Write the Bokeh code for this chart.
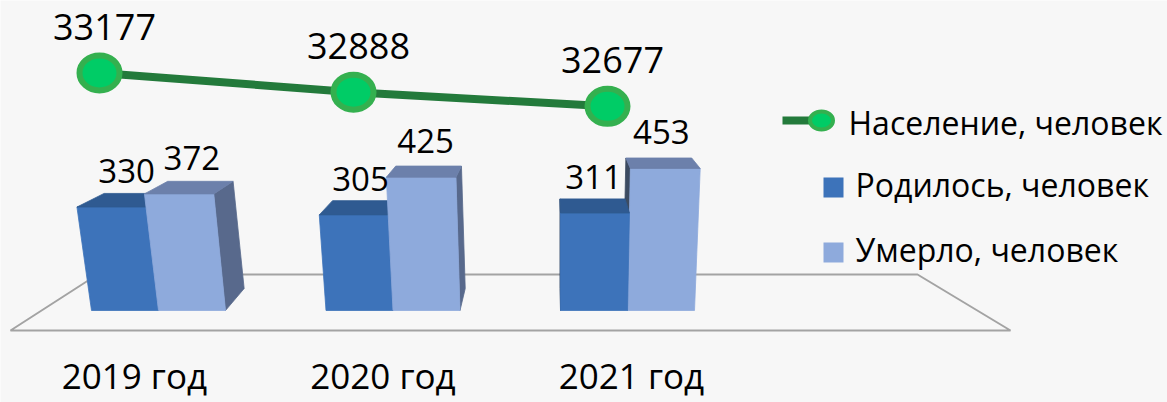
from bokeh.plotting import figure
from bokeh.models import Range1d
from bokeh.core.properties import value
from bokeh.embed import file_html
from bokeh.resources import INLINE

# ---------------- data ----------------
years = ["2019 год", "2020 год", "2021 год"]
population = [33177, 32888, 32677]
born = [330, 305, 311]
died = [372, 425, 453]
pop_name = "Население, человек"
born_name = "Родилось, человек"
died_name = "Умерло, человек"

# ---------------- layout / style ----------------
W, H = 1167, 402
PAGE = 0
FONT = "Open Sans"
BG = "#f7f7f7"
BASE_FIX = 0.4   # alphabetic-baseline correction (fraction of font size)

# category scale: reference px of category 0 (bar pair centre) and px per category
CX0, CSTEP = 158.0, 234.5
# value scale: baseline px and px per unit
VY0, VK = 310.0, 0.3135
# population (secondary) scale
PY0, PMID, PK = 90.0, 32914.0, 0.0668
LX0, LSTEP = 99.0, 254.0


def cx(px):
    return (px - CX0) / CSTEP


def vy(py):
    return (VY0 - py) / VK


x_range = Range1d(cx(PAGE), cx(PAGE + W))
y_range = Range1d(vy(PAGE + H), vy(PAGE))
pop_range = Range1d(PMID - (PAGE + H - PY0) / PK, PMID + (PY0 - PAGE) / PK)
line_x_range = Range1d((PAGE - LX0) / LSTEP, (PAGE + W - LX0) / LSTEP)

p = figure(width=W, height=H, x_range=x_range, y_range=y_range,
           output_backend="svg", toolbar_location=None,
           x_axis_location=None, y_axis_location=None,
           min_border=0, background_fill_color=BG, border_fill_color=BG,
           outline_line_color=None)
p.extra_y_ranges = {"pop": pop_range}
p.extra_x_ranges = {"line": line_x_range}
p.grid.visible = False

# ---------------- 3D helpers (pseudo perspective) ----------------
BW = 67.0 / CSTEP               # bar width in category units
KC, KK = cx(560), 0.0003 * VK   # vertical keystone
DC, DK = cx(551), -0.0572       # horizontal depth shift
BACK0, BACKS = 22.0 / VK, 0.919  # back-plane vertical mapping


def keystone(x, v):
    return KC + (x - KC) * (1 + KK * v)


def depth(x):
    return DK * (x - DC)


def back(v):
    return BACK0 + BACKS * v


n = len(years)

# floor (plot area) outline
FL_FRONT_L, FL_FRONT_R = cx(10), cx(1010)
FL_BACK_L, FL_BACK_R = cx(97), cx(917)
FL_FRONT_Y, FL_BACK_Y = vy(330), vy(274)
p.patch([FL_FRONT_L, FL_FRONT_R, FL_BACK_R, FL_BACK_L],
        [FL_FRONT_Y, FL_FRONT_Y, FL_BACK_Y, FL_BACK_Y],
        fill_alpha=0, line_color="#a3a3a3", line_width=2)

DARK = dict(front="#3d73ba", top="#2f5a91", right="#2a4a78", left="#1f3a5e")
LIGHT = dict(front="#8eaadc", top="#6c80ab", right="#58698c", left="#3c4b61")

fx, fy, fc = [], [], []


def add(xs, ys, c):
    fx.append(xs)
    fy.append(ys)
    fc.append(c)


lab_x, lab_y, lab_t = [], [], []


def bar(xl, xr, v, col):
    fl, fr = keystone(xl, v), keystone(xr, v)
    bv, b0 = back(v), back(0)
    if depth(xr) > 0:
        add([xr, fr, fr + depth(fr), xr + depth(xr)], [0, v, bv, b0], col["right"])
    if depth(xl) < 0:
        add([xl, fl, fl + depth(fl), xl + depth(xl)], [0, v, bv, b0], col["left"])
    add([xl, xr, fr, fl], [0, 0, v, v], col["front"])
    add([fl, fr, fr + depth(fr), fl + depth(fl)], [v, v, bv, bv], col["top"])
    c = (fl + fr) / 2
    lab_x.append(c + 0.6 * depth(c))
    lab_y.append(v)
    lab_t.append(str(v))


for i in range(n):
    order = [(i - BW, i, born[i], DARK), (i, i + BW, died[i], LIGHT)]
    if i > DC:
        order = order[::-1]
    for xl, xr, v, col in order:
        bar(xl, xr, v, col)

p.patches(fx, fy, fill_color=fc, line_color=fc, line_width=0.8)

FS_BAR = 33
p.text(lab_x, lab_y, text=lab_t, text_align="center", text_baseline="alphabetic",
       y_offset=-23 - BASE_FIX * FS_BAR, text_font=value(FONT),
       text_font_size=f"{FS_BAR}px", text_color="#000000")

# ---------------- population line ----------------
idx = list(range(n))
LINE_C, RING_C, DOT_C = "#237a3b", "#34b04f", "#00cc66"
p.line(idx, population, x_range_name="line", y_range_name="pop",
       line_color=LINE_C, line_width=8)
p.ellipse(idx, population, width=40, height=35, width_units="screen", height_units="screen",
          x_range_name="line", y_range_name="pop",
          fill_color=DOT_C, line_color=RING_C, line_width=6)
FS_POP = 36
p.text(idx, population, text=[str(v) for v in population],
       x_range_name="line", y_range_name="pop",
       text_align="center", text_baseline="alphabetic", x_offset=5,
       y_offset=-32 - BASE_FIX * FS_POP,
       text_font=value(FONT), text_font_size=f"{FS_POP}px", text_color="#000000")

# ---------------- category labels ----------------
FS_CAT = 35
p.text([KC + (i - KC) * 1.06 for i in idx], [vy(389)] * n, text=years,
       text_align="center", text_baseline="alphabetic", y_offset=-BASE_FIX * FS_CAT,
       text_font=value(FONT), text_font_size=f"{FS_CAT}px", text_color="#000000")

# ---------------- legend ----------------
p.line([cx(782), cx(821)], [vy(120), vy(120)], line_color=LINE_C, line_width=8)
p.ellipse([cx(821)], [vy(120)], width=23, height=18, width_units="screen", height_units="screen",
          fill_color=DOT_C, line_color=RING_C, line_width=4)
p.quad(left=[cx(823), cx(823)], right=[cx(843), cx(843)],
       top=[vy(177), vy(242)], bottom=[vy(197), vy(262)],
       fill_color=[DARK["front"], LIGHT["front"]], line_color=None)
FS_LEG = 32
p.text([cx(848), cx(855), cx(855)], [vy(135), vy(197), vy(262)],
       text=[pop_name, born_name, died_name], text_align="left", text_baseline="alphabetic",
       y_offset=-BASE_FIX * FS_LEG,
       text_font=value(FONT), text_font_size=f"{FS_LEG}px", text_color="#000000")

open("out.html", "w").write(file_html(p, INLINE))
